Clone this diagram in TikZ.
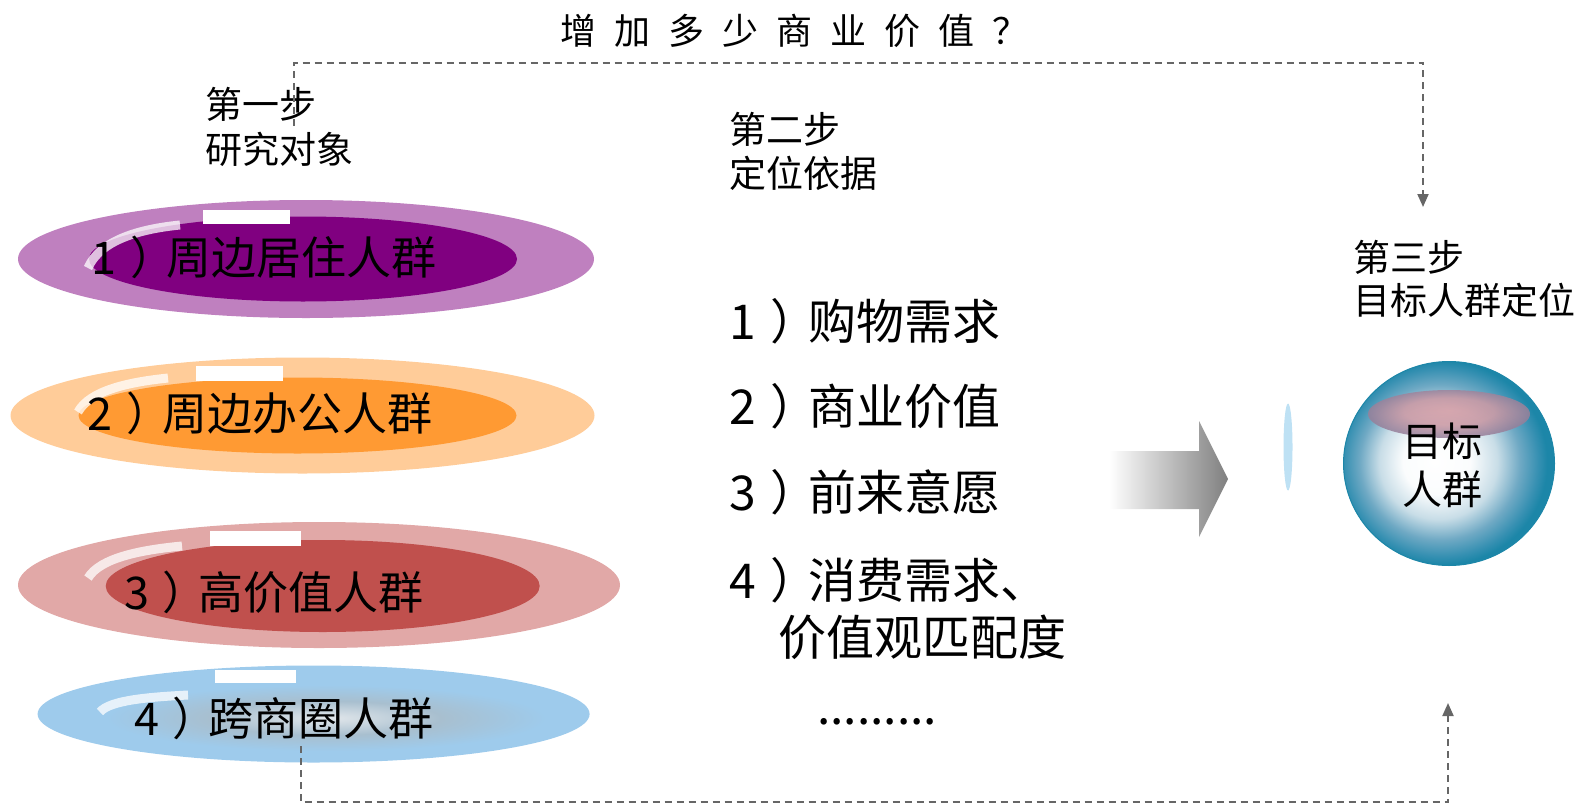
\documentclass[tikz,border=0pt]{standalone}
\usepackage{fontspec}
\setmainfont{Noto Sans CJK SC}
\usetikzlibrary{shapes.geometric,arrows.meta}
\definecolor{outA}{HTML}{BF80BF}
\definecolor{inA}{HTML}{800080}
\definecolor{outB}{HTML}{FFCC99}
\definecolor{inB}{HTML}{FF9A33}
\definecolor{outC}{HTML}{E1A8A7}
\definecolor{inC}{HTML}{C0504D}
\definecolor{outD}{HTML}{9ECBEC}
\definecolor{glowD}{HTML}{E2E7EB}
\definecolor{midD}{HTML}{A8BFCF}
\definecolor{dashgray}{HTML}{666666}
\definecolor{lensblue}{HTML}{BEE1F4}
\definecolor{ballrim}{HTML}{1C86A8}
\definecolor{balllight}{HTML}{C8DDE7}
\definecolor{ballmid}{HTML}{6FA9C4}
\definecolor{ballmid2}{HTML}{3690B2}
\definecolor{hlpink}{HTML}{D69CA4}
\definecolor{hlmauve}{HTML}{98809A}
\pgfdeclareradialshading{glowshade}{\pgfpoint{0bp}{0bp}}{color(0bp)=(glowD); color(13bp)=(midD); color(25bp)=(outD); color(50bp)=(outD)}
\pgfdeclareradialshading{ballshade}{\pgfpoint{-3.5bp}{0.5bp}}{color(0bp)=(white); color(8bp)=(white!92!balllight); color(14bp)=(balllight); color(19bp)=(ballmid); color(23bp)=(ballmid2); color(25bp)=(ballrim); color(50bp)=(ballrim)}
\pgfdeclareradialshading{hlshade}{\pgfpoint{0bp}{4bp}}{color(0bp)=(hlpink); color(14bp)=(hlpink!80!hlmauve); color(25bp)=(hlmauve); color(50bp)=(hlmauve)}
\newcommand{\numpar}[1]{#1\hspace{0.3em}）\hspace{-0.2em}}
\begin{document}
\begin{tikzpicture}[x=1pt,y=-1pt,
  ell/.style={ellipse, draw=none, inner sep=0pt},
  lbl/.style={font=\fontsize{45}{50}\selectfont, inner sep=0pt},
  steplbl/.style={font=\fontsize{37}{40}\selectfont, inner sep=0pt, anchor=west},
  listlbl/.style={font=\fontsize{48}{52}\selectfont, inner sep=0pt, anchor=west},
  dashline/.style={draw=dashgray, line width=2pt, dash pattern=on 7pt off 5pt},
  tipstyle/.style={-{Triangle[length=13pt,width=11pt]}},
  shine/.style={draw=white, line width=9pt, opacity=0.75},
  shinebox/.style={fill=white, draw=none}]
\useasboundingbox (0,0) rectangle (1581,806);

% title
\node[font=\fontsize{36}{40}\selectfont, inner sep=0pt] (title) at (794,31)
  {增\hspace{18pt}加\hspace{18pt}多\hspace{18pt}少\hspace{18pt}商\hspace{18pt}业\hspace{18pt}价\hspace{18pt}值\hspace{18pt}？};

% step labels
\node[steplbl] (s1a) at (205,104) {第一步};
\node[steplbl] (s1b) at (205,149) {研究对象};
\node[steplbl] (s2a) at (729,129) {第二步};
\node[steplbl] (s2b) at (729,173) {定位依据};
\node[steplbl] (s3a) at (1353,257) {第三步};
\node[steplbl] (s3b) at (1353,300) {目标人群定位};

% ellipse 1
\node[ell, fill=outA, minimum width=576pt, minimum height=118pt] (e1o) at (306,259) {};
\node[ell, fill=inA, minimum width=428pt, minimum height=85pt] (e1i) at (303,259) {};
\draw[shine] (88,268) .. controls (100,240) and (140,229) .. (180,225);
\fill[shinebox] (203,210) rectangle (290,224);
\node[lbl] (e1t) at (264,257) {\numpar{1}周边居住人群};

% ellipse 2
\node[ell, fill=outB, minimum width=584pt, minimum height=116pt] (e2o) at (302.5,415.5) {};
\node[ell, fill=inB, minimum width=438pt, minimum height=76pt] (e2i) at (297.5,415.5) {};
\draw[shine] (78,412) .. controls (90,390) and (130,382) .. (168,378);
\fill[shinebox] (196,366) rectangle (283,381);
\node[lbl] (e2t) at (260,413) {\numpar{2}周边办公人群};

% ellipse 3
\node[ell, fill=outC, minimum width=602pt, minimum height=126pt] (e3o) at (319,585) {};
\node[ell, fill=inC, minimum width=434pt, minimum height=92pt] (e3i) at (322.7,586) {};
\draw[shine] (88,578) .. controls (100,558) and (140,550) .. (182,546);
\fill[shinebox] (210,531) rectangle (301,546);
\node[lbl] (e3t) at (274,592) {\numpar{3}高价值人群};

% ellipse 4
\node[ell, fill=outD, minimum width=552pt, minimum height=97pt] (e4o) at (313.6,714) {};
\node[ell, shading=glowshade, minimum width=440pt, minimum height=66pt] (e4i) at (326,718) {};
\draw[shine] (100,712) .. controls (110,700) and (150,697) .. (188,695);
\fill[shinebox] (215,670) rectangle (296,683);
\node[lbl] (e4t) at (284,718) {\numpar{4}跨商圈人群};

% list
\node[listlbl] (l1) at (729,321) {\numpar{1}购物需求};
\node[listlbl] (l2) at (729,406) {\numpar{2}商业价值};
\node[listlbl] (l3) at (729,492) {\numpar{3}前来意愿};
\node[listlbl] (l4) at (729,580) {\numpar{4}消费需求、};
\node[listlbl] (l5) at (778,637) {价值观匹配度};
\node[listlbl] (l6) at (817,722) {.........};

% big arrow
\shade[left color=white, right color=black!50]
  (1109,451) -- (1199,451) -- (1199,421) -- (1228,479) -- (1199,537) -- (1199,509) -- (1109,509) -- cycle;

% lens
\node[ell, fill=lensblue, minimum width=9pt, minimum height=87pt] (lens) at (1288,447) {};

% sphere
\node[ell, shading=ballshade, draw=ballrim, line width=1pt, minimum width=211pt, minimum height=204pt] (ball) at (1449,463.5) {};
\node[ell, shading=hlshade, opacity=0.85, minimum width=162pt, minimum height=48pt] (ballhl) at (1449,414) {};
\node[font=\fontsize{40}{44}\selectfont, inner sep=0pt] (b1) at (1442,441) {目标};
\node[font=\fontsize{40}{44}\selectfont, inner sep=0pt] (b2) at (1442,489) {人群};

% dashed connectors
\coordinate (topL) at (294,126);
\coordinate (topC1) at (294,62.5);
\coordinate (topC2) at (1423,62.5);
\coordinate (topT) at (1423,207);
\draw[dashline, tipstyle] (topL) -- (topC1) -- (topC2) -- (topT);
\coordinate (botL) at (300.5,746);
\coordinate (botC1) at (300.5,802);
\coordinate (botC2) at (1448,802);
\coordinate (botT) at (1448,703);
\draw[dashline, tipstyle] (botL) -- (botC1) -- (botC2) -- (botT);
\end{tikzpicture}
\end{document}
